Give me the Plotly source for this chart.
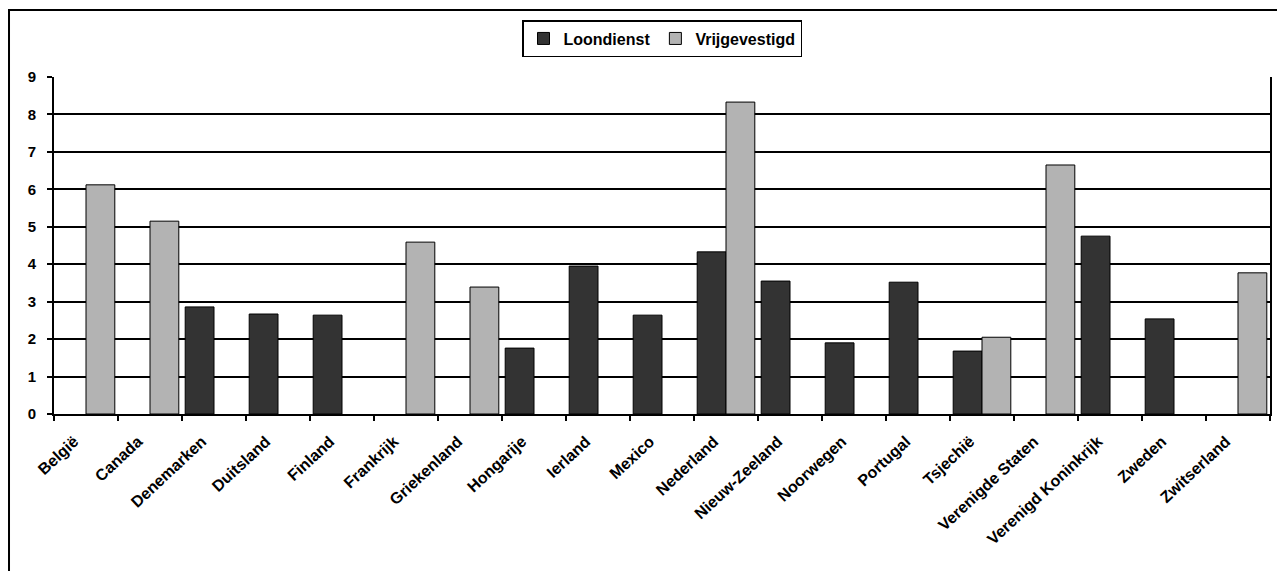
import plotly.graph_objects as go

countries = ["België", "Canada", "Denemarken", "Duitsland", "Finland", "Frankrijk",
             "Griekenland", "Hongarije", "Ierland", "Mexico", "Nederland", "Nieuw-Zeeland",
             "Noorwegen", "Portugal", "Tsjechië", "Verenigde Staten", "Verenigd Koninkrijk",
             "Zweden", "Zwitserland"]
loondienst = [None, None, 2.86, 2.67, 2.64, None, None, 1.76, 3.95, 2.64, 4.33, 3.55,
              1.90, 3.52, 1.68, None, 4.75, 2.54, None]
vrijgevestigd = [6.12, 5.15, None, None, None, 4.59, 3.39, None, None, None, 8.33, None,
                 None, None, 2.05, 6.65, None, None, 3.77]
y_ticks = [0, 1, 2, 3, 4, 5, 6, 7, 8, 9]

FONT = "Arial, Liberation Sans, sans-serif"

fig = go.Figure()
fig.add_trace(go.Bar(name="Loondienst", x=countries, y=loondienst,
                     marker=dict(color="#333333", line=dict(color="black", width=1))))
fig.add_trace(go.Bar(name="Vrijgevestigd", x=countries, y=vrijgevestigd,
                     marker=dict(color="#b3b3b3", line=dict(color="black", width=1))))

fig.update_layout(
    width=1277, height=571,
    margin=dict(l=54, r=5, t=77, b=157),
    paper_bgcolor="white", plot_bgcolor="white",
    barmode="group", bargap=0.1, bargroupgap=0,
    font=dict(family=FONT, size=14, color="black"),
    legend=dict(orientation="h", x=0.5, xanchor="center", y=1.169, yanchor="top",
                bordercolor="black", borderwidth=1.5,
                font=dict(family=FONT, size=16, color="black", weight="bold"),
                itemwidth=30, traceorder="normal"),
    xaxis=dict(type="category", tickson="boundaries", ticks="outside", ticklen=5,
               tickwidth=1.5, tickcolor="black", showline=True, linecolor="black",
               linewidth=2, mirror=False, showgrid=False, tickangle=-43,
               ticklabelstandoff=10, ticklabelshift=-12,
               tickfont=dict(family=FONT, size=16, color="black", weight="bold")),
    yaxis=dict(range=[0, 9], tickvals=y_ticks, ticks="outside", ticklen=5,
               tickwidth=1.5, tickcolor="black", showline=True, linecolor="black",
               linewidth=2, mirror=True, showgrid=True, gridcolor="black", gridwidth=1.5,
               zeroline=False, ticklabelstandoff=8,
               tickfont=dict(family=FONT, size=15, color="black", weight="bold")),
    shapes=[dict(type="rect", xref="paper", yref="paper",
                 x0=-0.037, x1=1.02, y0=-0.6, y1=1.1988,
                 line=dict(color="black", width=2), fillcolor="rgba(0,0,0,0)", layer="below")],
)

fig.write_html("out.html")
